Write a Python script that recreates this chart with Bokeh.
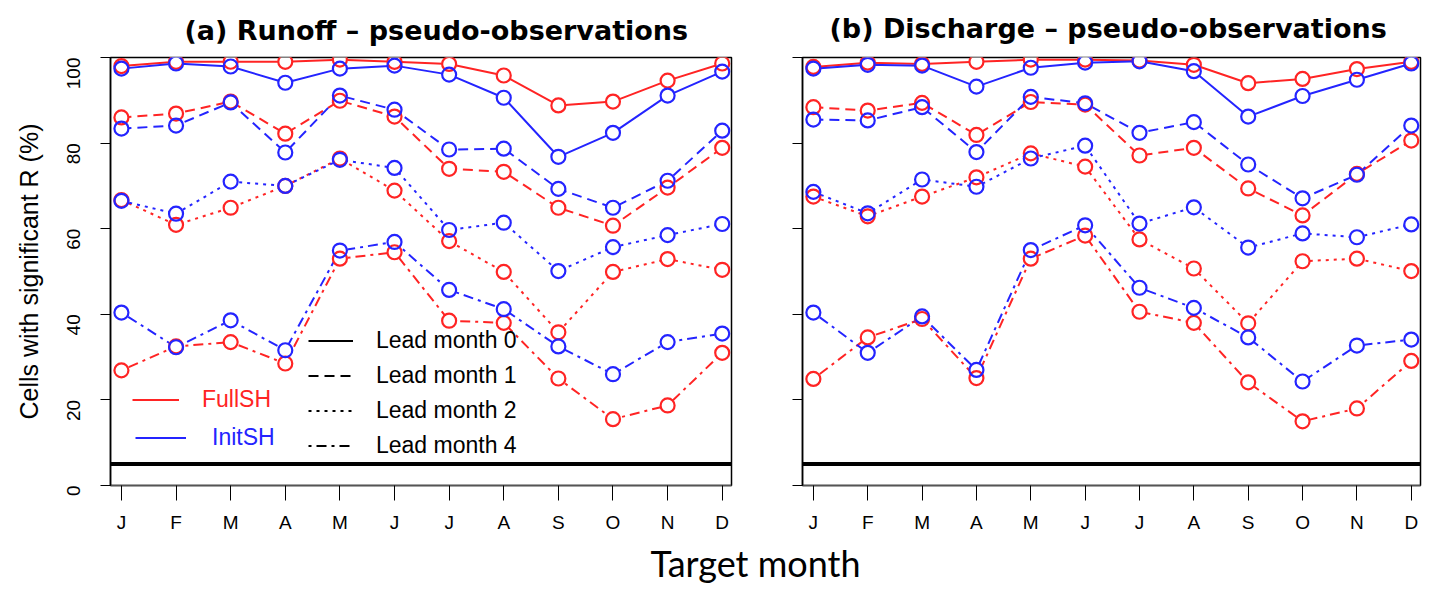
import numpy as np
from bokeh.plotting import figure
from bokeh.models import Span, Legend, LegendItem, FixedTicker
from bokeh.layouts import column, row
from bokeh.embed import file_html
from bokeh.resources import INLINE

months = ["J", "F", "M", "A", "M", "J", "J", "A", "S", "O", "N", "D"]
month_num = list(range(1, 13))
lead_months = [0, 1, 2, 4]

# (a) Runoff - pseudo-observations
runoff_full_l0 = [98.0, 99.0, 99.0, 99.0, 99.5, 99.0, 98.5, 95.8, 88.8, 89.7, 94.6, 98.6]
runoff_init_l0 = [97.4, 98.6, 97.9, 94.1, 97.4, 98.1, 96.0, 90.6, 76.8, 82.4, 91.1, 96.7]
runoff_full_l1 = [86.0, 86.9, 89.7, 82.2, 89.9, 86.2, 74.0, 73.3, 64.9, 60.7, 69.6, 78.9]
runoff_init_l1 = [83.4, 84.1, 89.5, 77.8, 91.1, 87.8, 78.5, 78.7, 69.3, 64.9, 71.2, 82.9]
runoff_full_l2 = [66.7, 60.9, 64.9, 70.0, 76.4, 68.9, 57.1, 49.9, 35.8, 49.9, 52.9, 50.4]
runoff_init_l2 = [66.5, 63.5, 71.0, 70.0, 76.1, 74.2, 59.7, 61.4, 50.1, 55.7, 58.5, 61.1]
runoff_full_l4 = [26.9, 32.5, 33.5, 28.5, 53.0, 54.5, 38.5, 38.0, 25.0, 15.5, 18.7, 31.0]
runoff_init_l4 = [40.4, 32.3, 38.6, 31.6, 54.9, 56.9, 45.7, 41.2, 32.5, 26.0, 33.5, 35.5]

# (b) Discharge - pseudo-observations
disch_full_l0 = [97.8, 98.8, 98.5, 99.0, 99.5, 99.5, 99.3, 98.3, 94.0, 95.0, 97.3, 99.0]
disch_init_l0 = [97.4, 98.3, 98.1, 93.2, 97.6, 98.8, 99.1, 96.8, 86.2, 91.0, 94.8, 98.6]
disch_full_l1 = [88.4, 87.6, 89.4, 81.9, 89.6, 89.0, 77.1, 78.9, 69.4, 63.1, 72.8, 80.6]
disch_init_l1 = [85.5, 85.3, 88.4, 77.9, 90.8, 89.3, 82.4, 84.9, 75.0, 67.1, 72.6, 84.1]
disch_full_l2 = [67.5, 62.9, 67.5, 72.0, 77.6, 74.5, 57.5, 50.7, 37.9, 52.4, 53.0, 50.1]
disch_init_l2 = [68.6, 63.6, 71.5, 69.8, 76.4, 79.4, 61.2, 65.0, 55.6, 58.9, 58.0, 61.0]
disch_full_l4 = [24.9, 34.6, 38.9, 25.1, 53.0, 58.4, 40.6, 38.0, 24.1, 15.0, 18.0, 29.1]
disch_init_l4 = [40.4, 31.0, 39.5, 27.0, 55.0, 60.8, 46.2, 41.5, 34.6, 24.3, 32.7, 34.1]

y_ticks = [0, 20, 40, 60, 80, 100]
threshold = 5

RED = "#ff2424"
BLUE = "#2424ff"
DASH = {0: "solid", 1: "10 6", 2: "3 5", 4: "3 5 10 5"}
FONT = "Liberation Sans"

runoff = {
    "full": [runoff_full_l0, runoff_full_l1, runoff_full_l2, runoff_full_l4],
    "init": [runoff_init_l0, runoff_init_l1, runoff_init_l2, runoff_init_l4],
}
disch = {
    "full": [disch_full_l0, disch_full_l1, disch_full_l2, disch_full_l4],
    "init": [disch_init_l0, disch_init_l1, disch_init_l2, disch_init_l4],
}


def make_panel(data, title, width, border_left, border_right, border_top, border_bottom,
               title_offset, title_standoff, show_ylabels):
    p = figure(width=width, height=538, x_range=(0.8, 12.17), y_range=(0, 100),
               output_backend="svg", toolbar_location=None,
               min_border_left=border_left, min_border_right=border_right,
               min_border_top=border_top, min_border_bottom=border_bottom)
    p.title.text = title
    p.title.align = "left"
    p.title.vertical_align = "top"
    p.title.offset = title_offset
    p.title.standoff = title_standoff
    p.title.text_font = "DejaVu Sans"
    p.title.text_font_size = "27px"
    p.title.text_font_style = "bold"
    p.title.text_color = "black"
    p.xgrid.visible = False
    p.ygrid.visible = False
    p.outline_line_color = "black"
    p.outline_line_width = 1.5
    p.background_fill_color = "white"
    p.border_fill_color = "white"

    p.xaxis.ticker = FixedTicker(ticks=month_num)
    p.xaxis.major_label_overrides = {m: lab for m, lab in zip(month_num, months)}
    p.xaxis.major_tick_in = 0
    p.xaxis.major_tick_out = 15
    p.xaxis.minor_tick_line_color = None
    p.xaxis.major_label_standoff = 11
    p.xaxis.major_label_text_font = FONT
    p.xaxis.major_label_text_font_size = "19px"
    p.xaxis.major_label_text_color = "black"
    p.xaxis.axis_line_color = "#555555"
    p.xaxis.axis_line_width = 1.5

    p.yaxis.ticker = FixedTicker(ticks=y_ticks)
    p.yaxis.major_tick_in = 0
    p.yaxis.major_tick_out = 10
    p.yaxis.minor_tick_line_color = None
    p.yaxis.axis_line_width = 1.5
    if show_ylabels:
        p.yaxis.major_label_orientation = np.pi / 2
        p.yaxis.major_label_standoff = 27
        p.yaxis.major_label_text_font = FONT
        p.yaxis.major_label_text_font_size = "19px"
        p.yaxis.major_label_text_color = "black"
        p.yaxis.axis_label = "Cells with significant R (%)"
        p.yaxis.axis_label_text_font = FONT
        p.yaxis.axis_label_text_font_size = "25px"
        p.yaxis.axis_label_text_font_style = "normal"
        p.yaxis.axis_label_text_color = "black"
        p.yaxis.axis_label_standoff = 15
    else:
        p.yaxis.major_label_overrides = {t: "" for t in y_ticks}

    p.add_layout(Span(location=threshold, dimension="width", line_color="black", line_width=4))

    # lines first
    for i, lead in enumerate(lead_months):
        for key, col in (("full", RED), ("init", BLUE)):
            p.line(month_num, data[key][i], line_color=col, line_width=2, line_dash=DASH[lead])
    # white discs to make gaps around points (type "b")
    for i, lead in enumerate(lead_months):
        for key, col in (("full", RED), ("init", BLUE)):
            p.scatter(month_num, data[key][i], size=15, marker="circle",
                      fill_color="white", line_color=None)
    # open circles
    for i, lead in enumerate(lead_months):
        for key, col in (("full", RED), ("init", BLUE)):
            p.scatter(month_num, data[key][i], size=14, marker="circle",
                      fill_color=None, line_color=col, line_width=2.2)
    return p


p1 = make_panel(runoff, "(a) Runoff \u2013 pseudo-observations", 768, 110, 37, 55, 53, 74, 20, True)
p2 = make_panel(disch, "(b) Discharge \u2013 pseudo-observations", 667, 34, 15, 57, 51, 27, 23, False)

# Legends in panel (a)
nan2 = np.array([np.nan, np.nan])
lead_rs = []
for lead in lead_months:
    lead_rs.append(p1.line(nan2, nan2, line_color="black", line_width=2, line_dash=DASH[lead]))
full_r = p1.line(nan2, nan2, line_color=RED, line_width=2)
init_r = p1.line(nan2, nan2, line_color=BLUE, line_width=2)


def add_legend(p, items, loc, glyph_width, standoff, color):
    lg = Legend(items=items, location=loc, orientation="vertical",
                glyph_width=glyph_width, glyph_height=35, label_height=35,
                label_standoff=standoff, spacing=0, padding=0, margin=0,
                label_text_font=FONT, label_text_font_size="23px",
                label_text_color=color,
                border_line_alpha=0, background_fill_alpha=0)
    p.add_layout(lg, "center")


add_legend(p1, [LegendItem(label=f"Lead month {l}", renderers=[r]) for l, r in zip(lead_months, lead_rs)],
           (198, 22), 45, 23, "black")
add_legend(p1, [LegendItem(label="FullSH", renderers=[full_r])], (22, 68), 47, 23, RED)
add_legend(p1, [LegendItem(label="InitSH", renderers=[init_r])], (25, 30), 51, 26, BLUE)

# Common x label
p3 = figure(width=1435, height=54, output_backend="svg", toolbar_location=None,
            min_border_left=0, min_border_right=0, min_border_top=45, min_border_bottom=0,
            x_range=(0, 1), y_range=(0, 1))
p3.title.text = "Target month"
p3.title.align = "left"
p3.title.offset = 650
p3.title.text_font = "Lato"
p3.title.text_font_size = "36px"
p3.title.text_font_style = "normal"
p3.title.text_color = "black"
p3.title.standoff = 0
p3.axis.visible = False
p3.xgrid.visible = False
p3.ygrid.visible = False
p3.outline_line_color = None
p3.line(nan2, nan2, line_alpha=0)

layout = column(row(p1, p2), p3)
open("out.html", "w").write(file_html(layout, INLINE))
